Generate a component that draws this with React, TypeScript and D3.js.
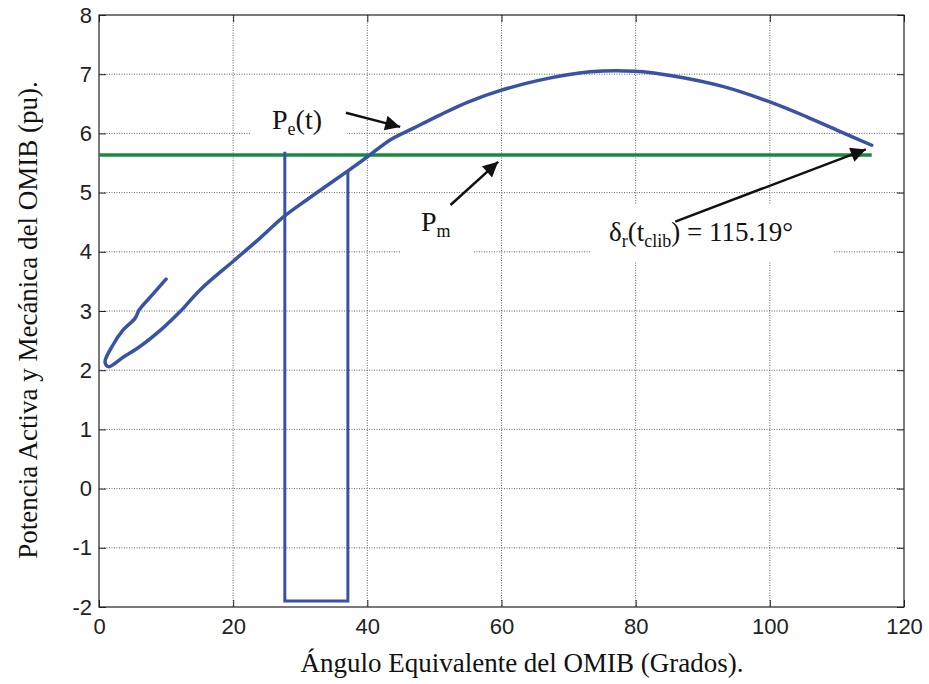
import React, { useEffect, useRef } from "react";
import * as d3 from "d3";

// swing trajectory (degrees, pu)
const deltaCurve = [10.0, 8.0, 6.0, 5.4, 3.6, 2.1, 0.9, 1.4, 3.6, 6.1, 9.6, 12.1, 15.1, 20.0, 24.0, 27.5, 31.0, 34.0, 36.9, 40.2, 43.4, 46.9, 50.8, 55.0, 60.0, 65.7, 73.2, 79.9, 85.6, 93.1, 99.8, 105.5, 110.5, 115.19];
const peCurve = [3.54, 3.28, 3.02, 2.88, 2.68, 2.43, 2.14, 2.06, 2.22, 2.4, 2.72, 2.99, 3.36, 3.84, 4.23, 4.59, 4.88, 5.12, 5.35, 5.62, 5.89, 6.09, 6.31, 6.53, 6.73, 6.9, 7.04, 7.05, 6.97, 6.79, 6.54, 6.28, 6.03, 5.8];

// fault-on step
const faultX = [27.7, 27.7, 37.1, 37.1];
const faultY = [5.69, -1.9, -1.9, 5.38];

// mechanical power
const pmX = [0, 115.19];
const pmY = [5.635, 5.635];

const xTicks = [0, 20, 40, 60, 80, 100, 120];
const yTicks = [-2, -1, 0, 1, 2, 3, 4, 5, 6, 7, 8];

// annotation arrows: [x0, y0, x1, y1] in data units
const arrows = [
  [36.8, 6.35, 44.9, 6.11],
  [52.4, 4.79, 59.5, 5.52],
  [85.9, 4.51, 114.3, 5.73],
];

const App = () => {
  const svgRef = useRef(null);

  useEffect(() => {
    const margin = { top: 15, right: 25, bottom: 77, left: 99 };
    const W = 929;
    const H = 684;
    const width = W - margin.left - margin.right;
    const height = H - margin.top - margin.bottom;

    const root = d3.select(svgRef.current);
    root.selectAll("*").remove();
    root.attr("width", W).attr("height", H);

    const defs = root.append("defs");
    defs
      .append("marker")
      .attr("id", "head")
      .attr("viewBox", "0 0 10 10")
      .attr("refX", 10)
      .attr("refY", 5)
      .attr("markerWidth", 7)
      .attr("markerHeight", 6)
      .attr("markerUnits", "strokeWidth")
      .attr("orient", "auto")
      .append("path")
      .attr("d", "M0,0 L10,5 L0,10 z")
      .attr("fill", "#111");

    const svg = root
      .append("g")
      .attr("transform", `translate(${margin.left}, ${margin.top})`);

    const x = d3.scaleLinear().domain([0, 120]).range([0, width]);
    const y = d3.scaleLinear().domain([-2, 8]).range([height, 0]);

    // grid
    const grid = svg.append("g");
    grid
      .selectAll("line.gx")
      .data(xTicks.slice(1, -1))
      .join("line")
      .attr("x1", (d) => x(d))
      .attr("x2", (d) => x(d))
      .attr("y1", 0)
      .attr("y2", height);
    grid
      .selectAll("line.gy")
      .data(yTicks.slice(1, -1))
      .join("line")
      .attr("x1", 0)
      .attr("x2", width)
      .attr("y1", (d) => y(d))
      .attr("y2", (d) => y(d));
    grid
      .selectAll("line")
      .attr("stroke", "#666")
      .attr("stroke-width", 1)
      .attr("stroke-dasharray", "1,1.5");

    // white label boxes that hide the grid
    const boxes = [
      [250 - margin.left, 100 - margin.top, 97, 45],
      [400 - margin.left, 206 - margin.top, 74, 56],
      [590 - margin.left, 204 - margin.top, 243, 58],
    ];
    svg
      .selectAll("rect.box")
      .data(boxes)
      .join("rect")
      .attr("x", (d) => d[0])
      .attr("y", (d) => d[1])
      .attr("width", (d) => d[2])
      .attr("height", (d) => d[3])
      .attr("fill", "white");

    // axes
    const fmt = (d) => String(d);
    const styleAxis = (g, labels) => {
      g.select(".domain").remove();
      g.selectAll(".tick line").attr("stroke", "#222").attr("stroke-width", 1);
      g.selectAll("text")
        .attr("font-family", "'Liberation Sans', Arial, sans-serif")
        .attr("font-size", 22)
        .attr("fill", "#222")
        .style("display", labels ? null : "none");
    };
    svg
      .append("g")
      .attr("transform", `translate(0, ${height})`)
      .call(d3.axisBottom(x).tickValues(xTicks).tickSize(-7).tickPadding(11).tickFormat(fmt))
      .call((g) => styleAxis(g, true));
    svg
      .append("g")
      .call(d3.axisTop(x).tickValues(xTicks).tickSize(-7))
      .call((g) => styleAxis(g, false));
    svg
      .append("g")
      .call(d3.axisLeft(y).tickValues(yTicks).tickSize(-7).tickPadding(7).tickFormat(fmt))
      .call((g) => styleAxis(g, true));
    svg
      .append("g")
      .attr("transform", `translate(${width}, 0)`)
      .call(d3.axisRight(y).tickValues(yTicks).tickSize(-7))
      .call((g) => styleAxis(g, false));

    svg
      .append("rect")
      .attr("width", width)
      .attr("height", height)
      .attr("fill", "none")
      .attr("stroke", "#222")
      .attr("stroke-width", 1.2);

    const line = d3
      .line()
      .x((d) => x(d[0]))
      .y((d) => y(d[1]));

    svg
      .append("path")
      .datum(d3.zip(pmX, pmY))
      .attr("d", line)
      .attr("fill", "none")
      .attr("stroke", "#1b8a40")
      .attr("stroke-width", 3.5);

    svg
      .append("path")
      .datum(d3.zip(faultX, faultY))
      .attr("d", line)
      .attr("fill", "none")
      .attr("stroke", "#3853a4")
      .attr("stroke-width", 3);

    svg
      .append("path")
      .datum(d3.zip(deltaCurve, peCurve))
      .attr("d", line.curve(d3.curveCatmullRom.alpha(0.5)))
      .attr("fill", "none")
      .attr("stroke", "#3853a4")
      .attr("stroke-width", 3.5)
      .attr("stroke-linejoin", "round")
      .attr("stroke-linecap", "round");

    // arrows
    svg
      .selectAll("line.arrow")
      .data(arrows)
      .join("line")
      .attr("x1", (d) => x(d[0]))
      .attr("y1", (d) => y(d[1]))
      .attr("x2", (d) => x(d[2]))
      .attr("y2", (d) => y(d[3]))
      .attr("stroke", "#111")
      .attr("stroke-width", 2.5)
      .attr("marker-end", "url(#head)");

    // annotation text
    const serif = "'Liberation Serif', 'Times New Roman', serif";
    const addLabel = (px, py, size, parts) => {
      const t = root
        .append("text")
        .attr("x", px)
        .attr("y", py)
        .attr("font-family", serif)
        .attr("font-size", size)
        .attr("fill", "#111");
      let shift = 0;
      parts.forEach(([s, sub]) => {
        const dy = sub ? 6 - shift : -shift;
        shift = sub ? 6 : 0;
        t.append("tspan")
          .attr("dy", dy)
          .attr("font-size", sub ? 18 : size)
          .text(s);
      });
    };
    addLabel(272, 129, 28, [["P", false], ["e", true], ["(t)", false]]);
    addLabel(421, 231, 28, [["P", false], ["m", true]]);
    addLabel(609, 241, 27, [["δ", false], ["r", true], ["(t", false], ["clib", true], [") = 115.19°", false]]);

    // axis titles
    root
      .append("text")
      .attr("x", 522)
      .attr("y", 672)
      .attr("text-anchor", "middle")
      .attr("font-family", serif)
      .attr("font-size", 27)
      .attr("fill", "#111")
      .text("Ángulo Equivalente del OMIB (Grados).");
    root
      .append("text")
      .attr("transform", "translate(37, 320) rotate(-90)")
      .attr("text-anchor", "middle")
      .attr("font-family", serif)
      .attr("font-size", 27)
      .attr("fill", "#111")
      .text("Potencia Activa y Mecánica del OMIB (pu).");
  }, []);

  return (
    <svg
      ref={svgRef}
      style={{ position: "absolute", left: 0, top: 0, display: "block", background: "white" }}
    ></svg>
  );
};

export default App;
